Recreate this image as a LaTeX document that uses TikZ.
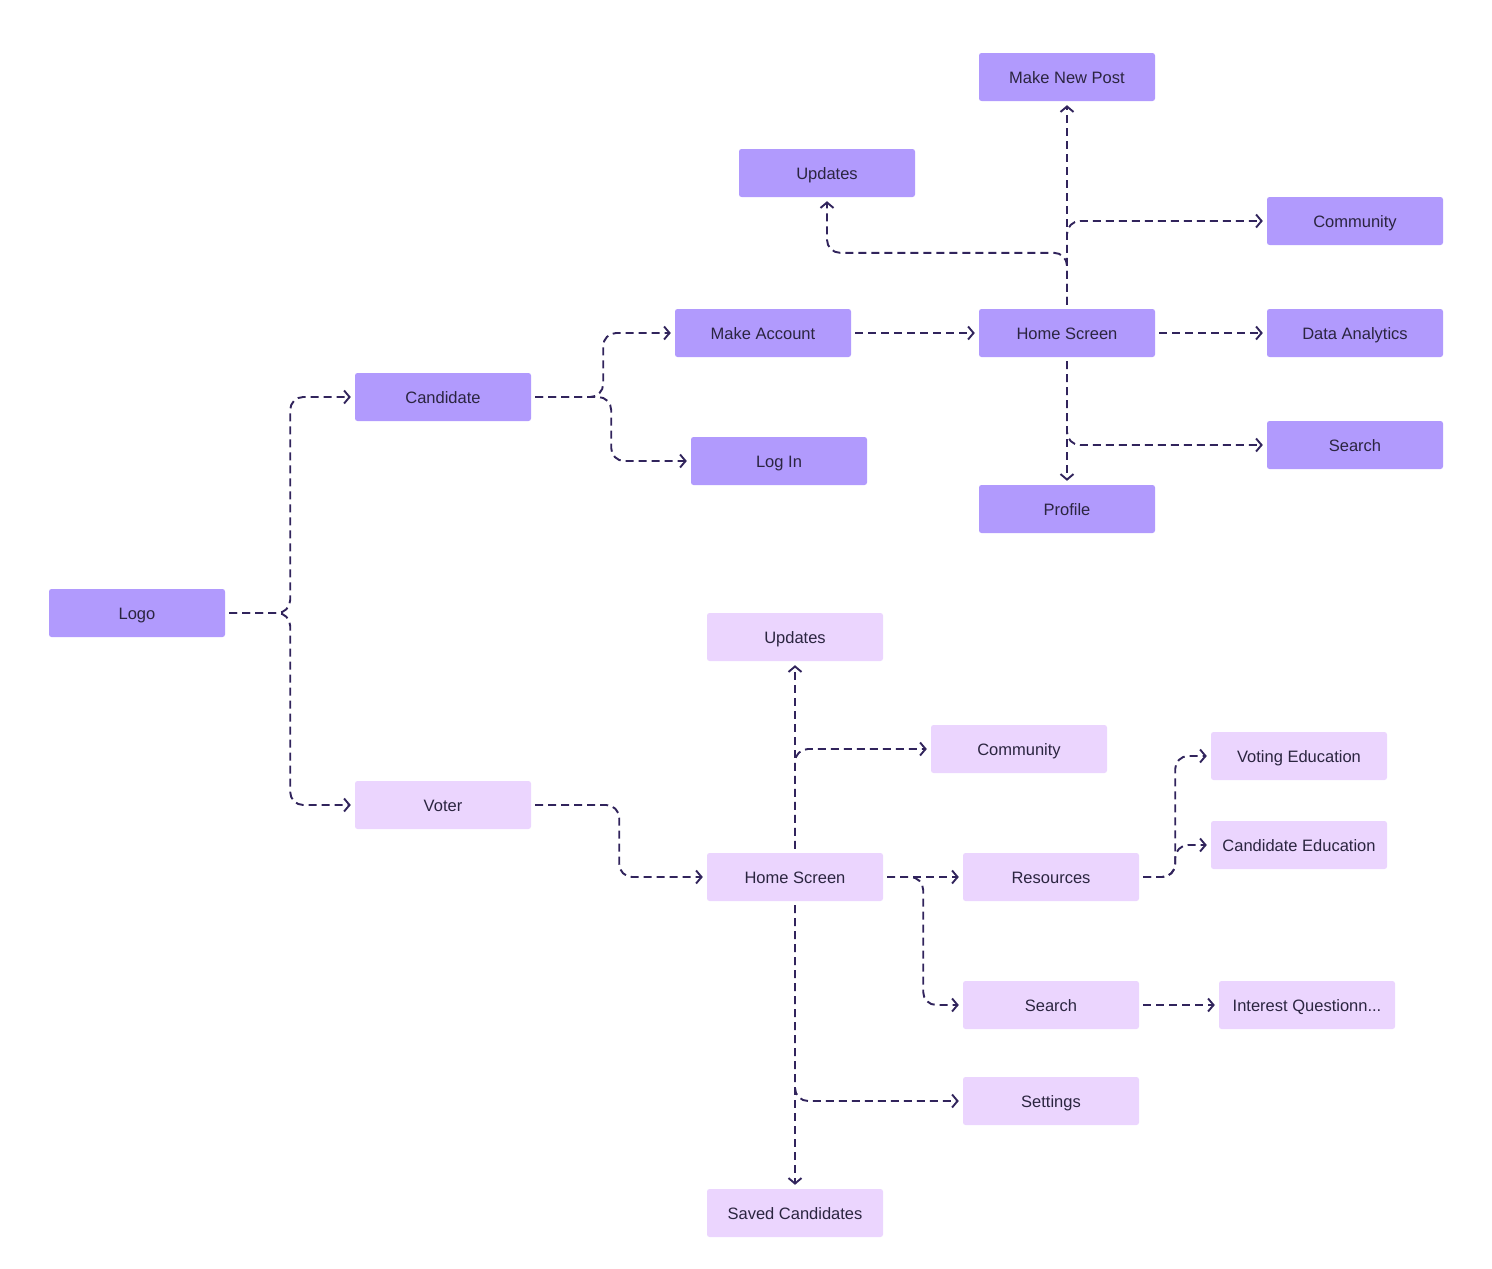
\documentclass[tikz,border=0pt]{standalone}
\usepackage{fontspec}
\setmainfont{Liberation Sans}
\usepackage{xcolor}
\usetikzlibrary{arrows.meta}
\definecolor{candfill}{HTML}{B19AFD}
\definecolor{votefill}{HTML}{EBD5FE}
\definecolor{linkcol}{HTML}{31245C}
\definecolor{textcol}{HTML}{2B2540}
\begin{document}
\begin{tikzpicture}[x=1pt,y=-1pt,
    box/.style={rectangle, rounded corners=2.5pt, minimum width=176pt, minimum height=48pt,
      inner sep=0pt, text height=14pt, text depth=2pt, text=textcol,
      font=\fontsize{16.5}{19}\selectfont},
    cand/.style={box, fill=candfill},
    vote/.style={box, fill=votefill},
    link/.style={draw=linkcol, line width=1.9pt, dash pattern=on 8pt off 5pt, rounded corners=13pt,
      shorten <=4pt, shorten >=4pt, -{Straight Barb[length=5.5pt,width=13pt,line width=1.9pt]}}]
  \useasboundingbox (0,0) rectangle (1492,1269);
  % candidate side
  \node[cand] (logo) at (137,613) {Logo};
  \node[cand] (cand) at (443,397) {Candidate};
  \node[cand] (acct) at (763,333) {Make Account};
  \node[cand] (login) at (779,461) {Log In};
  \node[cand] (homeC) at (1067,333) {Home Screen};
  \node[cand] (post) at (1067,77) {Make New Post};
  \node[cand] (updC) at (827,173) {Updates};
  \node[cand] (commC) at (1355,221) {Community};
  \node[cand] (data) at (1355,333) {Data Analytics};
  \node[cand] (srchC) at (1355,445) {Search};
  \node[cand] (prof) at (1067,509) {Profile};
  % voter side
  \node[vote] (voter) at (443,805) {Voter};
  \node[vote] (homeV) at (795,877) {Home Screen};
  \node[vote] (updV) at (795,637) {Updates};
  \node[vote] (commV) at (1019,749) {Community};
  \node[vote] (res) at (1051,877) {Resources};
  \node[vote] (votEd) at (1299,756) {Voting Education};
  \node[vote] (candEd) at (1299,845) {Candidate Education};
  \node[vote] (srchV) at (1051,1005) {Search};
  \node[vote] (quest) at (1307,1005) {Interest Questionn...};
  \node[vote] (sett) at (1051,1101) {Settings};
  \node[vote] (saved) at (795,1213) {Saved Candidates};

  \draw[link] (logo.east) -- ++(65,0) |- (cand.west);
  \draw[link] (logo.east) -- ++(65,0) |- (voter.west);
  \draw[link] (cand.east) -- ++(72,0) |- (acct.west);
  \draw[link] (cand.east) -- ++(80,0) |- (login.west);
  \draw[link] (acct.east) -- (homeC.west);
  \draw[link] (homeC.north) -- (post.south);
  \draw[link] (homeC.north) -- ++(0,-56) -| (updC.south);
  \draw[link] (homeC.north) |- (commC.west);
  \draw[link] (homeC.east) -- (data.west);
  \draw[link] (homeC.south) |- (srchC.west);
  \draw[link] (homeC.south) -- (prof.north);

  \draw[link] (voter.east) -- ++(88,0) |- (homeV.west);
  \draw[link] (homeV.north) -- (updV.south);
  \draw[link] (homeV.north) |- (commV.west);
  \draw[link] (homeV.east) -- (res.west);
  \draw[link] (homeV.east) -- ++(40,0) |- (srchV.west);
  \draw[link] (homeV.south) |- (sett.west);
  \draw[link] (homeV.south) -- (saved.north);
  \draw[link] (res.east) -- ++(36,0) |- (votEd.west);
  \draw[link] (res.east) -- ++(36,0) |- (candEd.west);
  \draw[link] (srchV.east) -- (quest.west);
\end{tikzpicture}
\end{document}
